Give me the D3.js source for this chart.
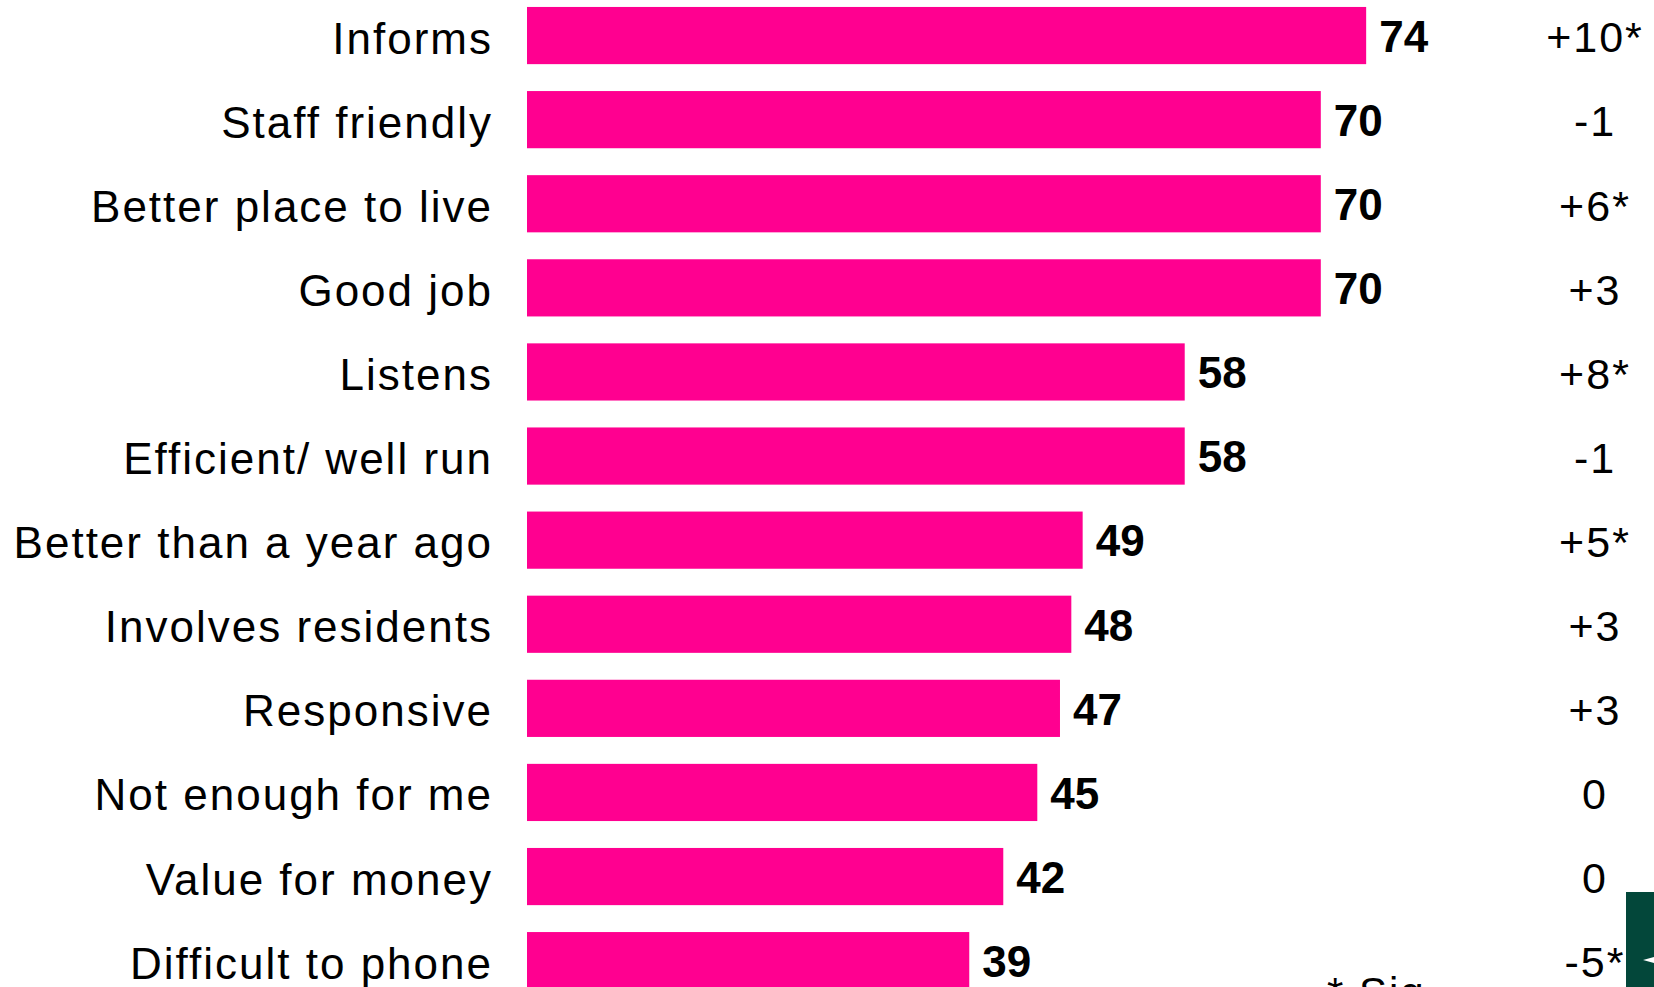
<!DOCTYPE html>
<html>
<head>
<meta charset="utf-8">
<script src="https://cdn.jsdelivr.net/npm/d3@7"></script>
<style>
html,body{margin:0;padding:0;background:#fff;overflow:hidden;}
svg{display:block;font-family:"Liberation Sans",Arial,sans-serif;}
</style>
</head>
<body>
<svg id="chart" width="1654" height="987"></svg>
<script>
const categories = ["Informs","Staff friendly","Better place to live","Good job","Listens","Efficient/ well run","Better than a year ago","Involves residents","Responsive","Not enough for me","Value for money","Difficult to phone"];
const values = [74,70,70,70,58,58,49,48,47,45,42,39];
const changes = ["+10*","-1","+6*","+3","+8*","-1","+5*","+3","+3","0","0","-5*"];
const footnote = "* Sig";

const svg = d3.select("#chart");
const x = d3.scaleLinear().domain([0,100]).range([527, 1661]);
const y = d3.scaleBand().domain(categories).range([-6.5, -6.5 + 12*84.1]).paddingInner(0.32).paddingOuter(0.16);

const rows = categories.map((c,i)=>({cat:c, val:values[i], chg:changes[i]}));

svg.selectAll("rect.bar").data(rows).enter().append("rect")
  .attr("class","bar")
  .attr("x", x(0))
  .attr("y", d=>y(d.cat))
  .attr("width", d=>x(d.val)-x(0))
  .attr("height", y.bandwidth())
  .attr("fill","#FF0090");

svg.selectAll("text.cat").data(rows).enter().append("text")
  .attr("class","cat")
  .attr("x", 493)
  .attr("y", d=>y(d.cat)+y.bandwidth()/2)
  .attr("dy","0.41em")
  .attr("text-anchor","end")
  .style("font-size","44px")
  .style("letter-spacing","2px")
  .attr("fill","#000")
  .text(d=>d.cat);

svg.selectAll("text.val").data(rows).enter().append("text")
  .attr("class","val")
  .attr("x", d=>x(d.val)+13)
  .attr("y", d=>y(d.cat)+y.bandwidth()/2)
  .attr("dy","0.37em")
  .style("font-size","44px")
  .style("font-weight","bold")
  .attr("fill","#000")
  .text(d=>d.val);

svg.selectAll("text.chg").data(rows).enter().append("text")
  .attr("class","chg")
  .attr("x", 1595)
  .attr("y", d=>y(d.cat)+y.bandwidth()/2)
  .attr("dy","0.39em")
  .attr("text-anchor","middle")
  .style("font-size","43px")
  .style("letter-spacing","2px")
  .attr("fill","#000")
  .text(d=>d.chg);

svg.append("text")
  .attr("x", 1327)
  .attr("y", 1007)
  .style("font-size","42px")
  .style("letter-spacing","2px")
  .attr("fill","#000")
  .text(footnote);

svg.append("rect")
  .attr("x",1626).attr("y",892).attr("width",28).attr("height",95)
  .attr("fill","#03473A");
svg.append("path")
  .attr("d","M1643,960 L1654,957 L1654,963 Z")
  .attr("fill","#fff");
</script>
</body>
</html>
